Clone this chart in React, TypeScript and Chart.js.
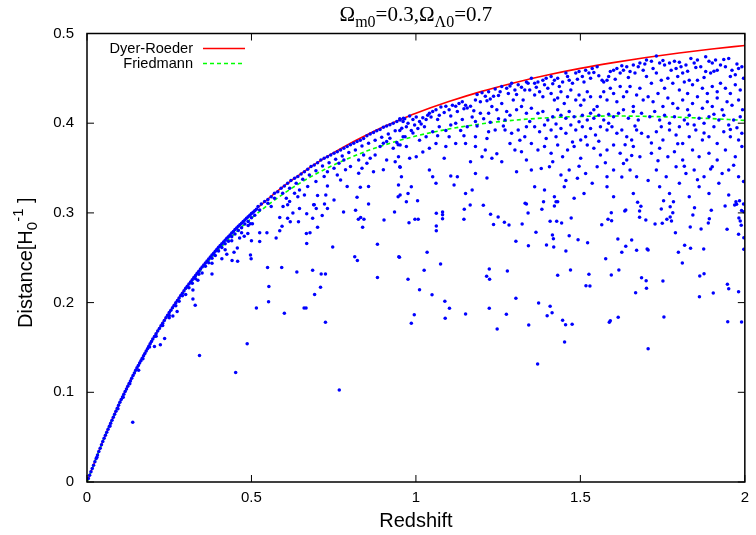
import React, { useEffect, useRef } from 'react';
import { Chart, registerables } from 'chart.js';

Chart.register(...registerables);

// ---- axis ticks ----
const xTicks = [0, 0.5, 1, 1.5, 2];
const yTicks = [0, 0.1, 0.2, 0.3, 0.4, 0.5];

// ---- model curves ----
const curveZ = [0, 0.05, 0.1, 0.15, 0.2, 0.25, 0.3, 0.35, 0.4, 0.45, 0.5, 0.55, 0.6, 0.65, 0.7, 0.75, 0.8, 0.85, 0.9, 0.95, 1.0, 1.1, 1.2, 1.3, 1.4, 1.5, 1.6, 1.7, 1.8, 1.9, 2.0];
const dyerRoeder = [0, 0.0471, 0.0889, 0.1261, 0.1594, 0.189, 0.216, 0.2399, 0.2618, 0.2815, 0.2993, 0.3155, 0.3303, 0.3436, 0.356, 0.3672, 0.3775, 0.3869, 0.3957, 0.4037, 0.4111, 0.4241, 0.4355, 0.4452, 0.4537, 0.4611, 0.4675, 0.4732, 0.4782, 0.4827, 0.4867];
const friedmann = [0, 0.047, 0.0888, 0.1259, 0.1589, 0.1883, 0.2145, 0.2379, 0.2588, 0.2774, 0.294, 0.3088, 0.322, 0.3338, 0.3442, 0.3534, 0.3616, 0.3689, 0.3752, 0.3808, 0.3857, 0.3935, 0.3993, 0.4034, 0.406, 0.4075, 0.408, 0.4076, 0.4066, 0.4051, 0.4031];

// ---- scattered sources (redshift, distance) ----
const bandPoints: number[][] = [
[0.004,0.0038],[0.008,0.0075],[0.012,0.0113],[0.016,0.015],[0.02,0.0188],[0.024,0.0226],[0.028,0.0263],[0.032,0.0301],[0.036,0.0339],[0.04,0.0376],[0.044,0.0414],[0.048,0.0452],
[0.052,0.0488],[0.056,0.0521],[0.06,0.0554],[0.064,0.0588],[0.068,0.0621],[0.072,0.0654],[0.076,0.0688],[0.08,0.0721],[0.084,0.0755],[0.088,0.0788],[0.092,0.0821],[0.096,0.0855],[0.1,0.0888],
[0.104,0.0919],[0.108,0.0948],[0.112,0.0978],[0.116,0.1008],[0.12,0.1037],[0.124,0.1067],[0.128,0.1097],[0.132,0.1126],[0.136,0.1156],[0.14,0.1186],[0.144,0.1216],[0.148,0.1245],
[0.152,0.1273],[0.156,0.13],[0.16,0.1327],[0.164,0.1353],[0.168,0.138],[0.172,0.1407],[0.176,0.1433],[0.18,0.146],[0.184,0.1486],[0.188,0.1513],[0.192,0.154],[0.196,0.1566],[0.2,0.1593],
[0.205,0.1623],[0.21,0.1652],[0.215,0.1682],[0.22,0.1711],[0.225,0.1741],[0.23,0.1771],[0.235,0.18],[0.24,0.183],[0.245,0.1859],[0.25,0.1889],
[0.255,0.1916],[0.26,0.1943],[0.265,0.197],[0.27,0.1997],[0.275,0.2024],[0.28,0.2051],[0.285,0.2078],[0.29,0.2105],[0.295,0.2132],[0.3,0.2159],
[0.305,0.2183],[0.31,0.2207],[0.315,0.2231],[0.32,0.2255],[0.325,0.2279],[0.33,0.2302],[0.335,0.2326],[0.34,0.235],[0.345,0.2374],[0.35,0.2398],
[0.355,0.242],[0.36,0.2442],[0.365,0.2464],[0.37,0.2486],[0.375,0.2508],[0.38,0.253],[0.385,0.2551],[0.39,0.2573],[0.395,0.2595],[0.4,0.2617],
[0.405,0.2637],[0.41,0.2656],[0.415,0.2676],[0.42,0.2696],[0.425,0.2716],[0.43,0.2735],[0.435,0.2755],[0.44,0.2775],[0.445,0.2794],[0.45,0.2814],
[0.455,0.2832],[0.46,0.285],[0.465,0.2867],[0.47,0.2885],[0.475,0.2903],[0.48,0.2921],[0.485,0.2939],[0.49,0.2956],[0.495,0.2974],[0.5,0.2992],
[0.505,0.3008],[0.51,0.3024],[0.515,0.3041],
[0.03,0.0275],[0.07,0.0625],[0.11,0.0945],[0.13,0.1095],[0.17,0.1375],[0.19,0.1505],[0.21,0.1625],[0.23,0.1745],[0.25,0.1855],[0.27,0.1965],[0.28,0.2015],[0.29,0.2075],
[0.31,0.2165],[0.32,0.2215],[0.33,0.2265],[0.34,0.2315],[0.36,0.2405],[0.37,0.2445],[0.38,0.2495],[0.39,0.2525],[0.4,0.2575],[0.41,0.2615],[0.42,0.2655],[0.43,0.2685],
[0.44,0.2735],[0.45,0.2765],[0.46,0.2805],[0.47,0.2835],[0.48,0.2875],[0.49,0.2905],[0.5,0.2945],[0.51,0.2975],[0.25,0.183],[0.35,0.233],[0.44,0.269],[0.47,0.278],
[0.49,0.286],[0.3,0.209],[0.38,0.244],[0.42,0.259]
];

const lowerLeftPoints: number[][] = [
[0.139,0.0666],[0.452,0.122],[0.487,0.154],[0.342,0.141],[0.767,0.1026],[0.725,0.178],[0.6,0.188],[0.515,0.194],[0.552,0.201],[0.553,0.218],[0.549,0.239],[0.592,0.239],
[0.638,0.234],[0.66,0.194],[0.666,0.194],[0.686,0.236],[0.712,0.232],[0.725,0.232],[0.692,0.209],[0.71,0.217],[0.747,0.262],[0.814,0.251],[0.822,0.247],[0.883,0.228],
[0.883,0.265],[0.948,0.251],[0.8165,0.303],[0.825,0.293],[0.832,0.295],[0.842,0.293],[0.838,0.284],[0.856,0.31],[0.78,0.301],[0.935,0.301],[0.903,0.292],[0.722,0.31],
[0.689,0.309],[0.697,0.305],[0.715,0.297],[0.701,0.284],[0.678,0.278],[0.667,0.277],[0.668,0.266],[0.686,0.294],[0.668,0.299],[0.646,0.305],[0.643,0.29],[0.626,0.3],
[0.618,0.29],[0.61,0.294],[0.593,0.285],[0.586,0.28],[0.586,0.295],[0.61,0.309],[0.575,0.272],[0.547,0.278],[0.525,0.278],[0.525,0.268],[0.5,0.269],[0.497,0.288],
[0.499,0.249],[0.497,0.253],[0.478,0.274],[0.464,0.272],[0.458,0.246],[0.457,0.261],[0.447,0.256],[0.441,0.247],[0.425,0.254],[0.41,0.249],[0.38,0.232],[0.337,0.225],
[0.329,0.197],[0.322,0.204],[0.322,0.214],[0.236,0.16],[0.223,0.153],[0.205,0.151],[0.261,0.185],[0.274,0.19],[0.157,0.1245],[0.094,0.0817],[0.489,0.277],[0.503,0.288]
];

const middlePoints: number[][] = [
[0.52,0.307],[0.53,0.31],[0.54,0.3126],[0.55,0.315],[0.56,0.318],[0.57,0.322],[0.58,0.3237],[0.59,0.3274],[0.6,0.33],[0.61,0.333],[0.62,0.336],[0.631,0.3386],
[0.641,0.3405],[0.651,0.3434],[0.661,0.346],[0.671,0.3486],[0.681,0.3516],[0.691,0.3534],[0.701,0.356],[0.711,0.359],[0.721,0.361],[0.731,0.3627],[0.741,0.3646],[0.751,0.3664],
[0.761,0.3683],[0.771,0.37],[0.781,0.372],[0.791,0.374],[0.801,0.376],[0.811,0.3776],[0.821,0.3795],[0.831,0.381],[0.841,0.383],[0.851,0.386],[0.861,0.388],[0.871,0.3895],
[0.881,0.3917],[0.891,0.393],[0.901,0.3955],[0.911,0.397],[0.921,0.3984],[0.931,0.4],[0.942,0.4018],[0.952,0.4036],[0.962,0.4055],
[0.525,0.3033],[0.55,0.3107],[0.57,0.3163],[0.595,0.322],[0.616,0.3274],[0.636,0.333],[0.656,0.3375],[0.676,0.3423],[0.696,0.347],[0.716,0.3523],[0.736,0.356],[0.756,0.3598],
[0.776,0.3635],[0.796,0.3672],[0.816,0.37],[0.836,0.3746],[0.856,0.3776],[0.876,0.381],[0.896,0.3843],[0.916,0.388],[0.937,0.3917],[0.957,0.3943],
[0.56,0.307],[0.606,0.3163],[0.631,0.322],[0.646,0.3256],[0.671,0.3293],[0.696,0.335],[0.721,0.3405],[0.731,0.346],[0.751,0.3497],[0.761,0.3423],[0.786,0.348],[0.801,0.3516],
[0.826,0.359],[0.841,0.3646],[0.851,0.3553],[0.861,0.3609],[0.876,0.3646],[0.891,0.374],[0.901,0.3776],[0.911,0.3795],[0.921,0.3832],[0.931,0.372],[0.942,0.3784],[0.952,0.3757],
[0.967,0.385],[0.826,0.3442],[0.836,0.3497],[0.856,0.3293],[0.871,0.346],[0.901,0.348],[0.911,0.359],[0.937,0.357],[0.947,0.3627],[0.952,0.3508],[0.947,0.331],[0.952,0.32],
[0.831,0.3286],[0.821,0.3174],[0.771,0.3367],[0.791,0.3293],[0.731,0.33],[0.726,0.32],[0.701,0.3193],[0.691,0.309],[0.661,0.32],[0.641,0.318],[0.616,0.3126],[0.596,0.307],
[0.731,0.305],[0.751,0.3144],[0.781,0.359],[0.766,0.3553]
];

const upperPoints: number[][] = [
[0.951,0.405],[0.966,0.405],[0.981,0.408],[0.961,0.402],[0.976,0.4],[0.991,0.404],[1.001,0.407],[0.996,0.398],[1.011,0.402],[1.021,0.406],[1.031,0.404],[1.041,0.411],
[1.051,0.413],[1.046,0.407],[1.061,0.415],[1.071,0.409],[1.076,0.418],[1.091,0.419],[1.101,0.415],[1.111,0.42],[1.121,0.419],[1.131,0.422],[1.141,0.424],[1.151,0.42],
[1.156,0.417],[1.166,0.419],[1.181,0.426],[1.186,0.432],[1.201,0.434],[1.211,0.43],[1.216,0.425],[1.221,0.435],[1.236,0.43],[1.241,0.438],[1.256,0.435],[1.261,0.441],
[1.276,0.439],[1.286,0.4415],[1.291,0.4445],[1.301,0.437],[1.311,0.443],[1.321,0.44],[1.336,0.446],[1.341,0.4445],
[0.951,0.392],[0.971,0.396],[0.986,0.392],[1.006,0.394],[1.026,0.396],[0.961,0.385],[0.991,0.389],[1.011,0.381],[0.946,0.376],[0.971,0.374],[1.031,0.385],[1.051,0.3905],
[1.071,0.396],[1.091,0.392],[1.101,0.385],[1.121,0.4],[1.141,0.404],[1.136,0.392],[1.151,0.3775],[1.171,0.407],[1.181,0.402],[1.196,0.411],[1.206,0.405],[1.221,0.411],
[1.231,0.4185],[1.246,0.415],[1.251,0.405],[1.261,0.422],[1.276,0.413],[1.286,0.409],[1.296,0.426],[1.306,0.415],[1.321,0.4185],[1.326,0.426],[1.336,0.411],[1.271,0.4036],
[1.216,0.383],[1.221,0.3905],[1.181,0.385],[1.156,0.396],[1.121,0.3775],[1.091,0.374],[1.061,0.3775],[1.041,0.372],[1.021,0.368],[1.001,0.3626],[0.981,0.3608],[0.951,0.3515],
[1.041,0.3478],[1.051,0.3403],[1.061,0.333],[0.986,0.3292],[0.976,0.3217],[0.956,0.3403],[0.946,0.318],[1.126,0.3403],[1.181,0.344],[1.151,0.3217],[1.171,0.3254],[1.116,0.331],
[1.201,0.3626],[1.231,0.3608],[1.261,0.357],[1.286,0.3775],[1.301,0.37],[1.321,0.3682],[1.241,0.3924],[1.271,0.3924],[1.291,0.3887],[1.311,0.3924],[1.331,0.385],[1.336,0.396],
[1.211,0.37],[1.181,0.374],
[1.351,0.45],[1.361,0.4445],[1.371,0.446],[1.386,0.448],[1.396,0.45],[1.411,0.452],[1.421,0.448],[1.431,0.45],[1.446,0.446],[1.456,0.456],[1.466,0.448],[1.476,0.4445],
[1.486,0.456],[1.496,0.4575],[1.506,0.452],[1.516,0.459],[1.526,0.456],[1.536,0.461],[1.541,0.4565],[1.551,0.463],[1.566,0.448],[1.571,0.446],[1.581,0.448],[1.591,0.4575],
[1.601,0.459],[1.611,0.461],[1.621,0.456],[1.631,0.459],[1.641,0.463],[1.651,0.4575],[1.661,0.465],[1.676,0.463],[1.681,0.467],[1.691,0.459],
[1.346,0.437],[1.361,0.4315],[1.376,0.435],[1.386,0.4296],[1.401,0.439],[1.411,0.433],[1.421,0.426],[1.431,0.428],[1.441,0.435],[1.451,0.422],[1.461,0.4296],[1.471,0.437],
[1.486,0.426],[1.496,0.4315],[1.501,0.42],[1.511,0.426],[1.521,0.435],[1.531,0.4296],[1.541,0.415],[1.551,0.4185],[1.561,0.4296],[1.571,0.435],[1.581,0.426],[1.591,0.439],
[1.601,0.433],[1.611,0.424],[1.621,0.441],[1.631,0.4296],[1.641,0.435],[1.651,0.441],[1.661,0.4185],[1.671,0.4315],[1.681,0.439],[1.691,0.426],
[1.351,0.4166],[1.371,0.411],[1.386,0.413],[1.401,0.4036],[1.416,0.4073],[1.431,0.415],[1.441,0.409],[1.456,0.4054],[1.466,0.413],[1.481,0.4073],[1.496,0.4017],[1.506,0.409],
[1.521,0.4036],[1.531,0.411],[1.541,0.4054],[1.556,0.409],[1.571,0.4036],[1.586,0.4],[1.601,0.4073],[1.616,0.411],[1.631,0.415],[1.646,0.4054],[1.661,0.413],[1.676,0.4036],
[1.686,0.411],
[1.361,0.396],[1.376,0.3905],[1.391,0.398],[1.411,0.3924],[1.426,0.385],[1.441,0.394],[1.456,0.3887],[1.471,0.398],[1.486,0.3924],[1.501,0.3812],[1.516,0.385],[1.531,0.394],
[1.546,0.3868],[1.561,0.396],[1.581,0.3924],[1.596,0.396],[1.611,0.3887],[1.626,0.3924],[1.641,0.385],[1.656,0.3812],[1.671,0.3924],[1.686,0.3887],
[1.351,0.3775],[1.371,0.37],[1.391,0.374],[1.411,0.3664],[1.431,0.3757],[1.446,0.3626],[1.461,0.37],[1.481,0.374],[1.501,0.3608],[1.521,0.3757],[1.541,0.372],[1.561,0.3645],
[1.581,0.37],[1.601,0.3757],[1.621,0.3664],[1.641,0.359],[1.661,0.374],[1.681,0.3626],
[1.351,0.3478],[1.381,0.3496],[1.406,0.3515],[1.441,0.3422],[1.466,0.3478],[1.491,0.3385],[1.516,0.344],[1.551,0.3515],[1.581,0.3403],[1.601,0.3478],[1.631,0.3552],[1.651,0.3478],
[1.671,0.3403],[1.361,0.3292],[1.391,0.3254],[1.421,0.318],[1.451,0.3292],[1.481,0.3162],[1.511,0.3217],[1.581,0.3292],[1.601,0.318],[1.661,0.3217],
[1.701,0.4705],[1.716,0.469],[1.731,0.475],[1.741,0.467],[1.756,0.465],[1.771,0.467],[1.786,0.469],[1.791,0.461],[1.806,0.463],[1.821,0.465],[1.836,0.472],[1.846,0.467],
[1.856,0.4705],[1.866,0.463],[1.881,0.474],[1.891,0.469],[1.901,0.467],[1.911,0.4705],[1.916,0.459],[1.926,0.465],[1.941,0.463],[1.951,0.472],[1.961,0.459],[1.971,0.454],
[1.981,0.461],[1.991,0.463],[1.881,0.4575],[1.896,0.456],[1.811,0.456],[1.831,0.448],
[1.701,0.452],[1.716,0.4445],[1.731,0.456],[1.746,0.448],[1.756,0.439],[1.766,0.45],[1.781,0.4445],[1.796,0.452],[1.801,0.437],[1.816,0.446],[1.826,0.433],[1.841,0.443],
[1.856,0.448],[1.871,0.439],[1.886,0.433],[1.901,0.441],[1.916,0.435],[1.926,0.4445],[1.941,0.439],[1.956,0.433],[1.971,0.443],[1.986,0.437],
[1.706,0.4296],[1.721,0.424],[1.736,0.433],[1.751,0.4185],[1.766,0.428],[1.781,0.422],[1.796,0.4166],[1.811,0.426],[1.826,0.415],[1.841,0.422],[1.856,0.4296],[1.871,0.4166],
[1.886,0.424],[1.901,0.4185],[1.916,0.428],[1.931,0.415],[1.946,0.424],[1.961,0.42],[1.981,0.426],[1.993,0.415],
[1.711,0.4073],[1.726,0.413],[1.741,0.4036],[1.756,0.409],[1.771,0.4],[1.786,0.4073],[1.801,0.396],[1.816,0.4036],[1.831,0.409],[1.846,0.398],[1.861,0.4054],[1.876,0.4],
[1.891,0.4073],[1.906,0.396],[1.921,0.4036],[1.936,0.409],[1.951,0.398],[1.966,0.4036],[1.986,0.4073],
[1.706,0.385],[1.731,0.3905],[1.751,0.3812],[1.771,0.3924],[1.791,0.3868],[1.811,0.3775],[1.831,0.385],[1.851,0.3924],[1.871,0.3812],[1.891,0.385],[1.916,0.3775],[1.936,0.3905],
[1.956,0.385],[1.981,0.3812],[1.991,0.3887],
[1.716,0.3664],[1.741,0.372],[1.766,0.3626],[1.786,0.3682],[1.811,0.359],[1.841,0.37],[1.861,0.3626],[1.891,0.3664],[1.916,0.359],[1.941,0.37],[1.971,0.3626],[1.991,0.374],
[1.731,0.3478],[1.761,0.3403],[1.791,0.3515],[1.821,0.344],[1.846,0.3478],[1.876,0.3403],[1.901,0.3515],[1.931,0.344],[1.951,0.3478],[1.981,0.3403],
[1.741,0.3292],[1.771,0.3217],[1.801,0.333],[1.831,0.318],[1.861,0.3292],[1.891,0.3217],[1.921,0.333],[1.951,0.32]
];

const extraUpperPoints: number[][] = [
[1.016,0.399],[1.036,0.409],[1.066,0.404],[1.086,0.412],[1.106,0.408],[1.126,0.413],[1.146,0.416],[1.176,0.414],[1.196,0.424],[1.226,0.427],[1.251,0.431],[1.281,0.433],
[1.306,0.432],[1.331,0.437],[1.366,0.44],[1.391,0.443],[1.416,0.444],[1.436,0.441],[1.461,0.452],[1.491,0.449],[1.511,0.446],[1.531,0.45],[1.556,0.453],[1.586,0.452],
[1.606,0.449],[1.626,0.464],[1.646,0.451],[1.666,0.456],[1.696,0.466],[1.721,0.461],[1.751,0.47],[1.776,0.459],[1.801,0.468],[1.826,0.458],[1.851,0.462],[1.876,0.451],
[1.906,0.458],[1.936,0.471],[1.956,0.452],[1.976,0.466],[1.996,0.45],
[1.106,0.398],[1.186,0.397],[1.266,0.397],[1.346,0.402],[1.426,0.399],[1.506,0.396],[1.586,0.41],[1.666,0.397],[1.746,0.396],[1.826,0.399],[1.906,0.41],[1.976,0.395],
[1.066,0.386],[1.146,0.386],[1.226,0.401],[1.316,0.381],[1.396,0.383],[1.476,0.379],[1.556,0.38],[1.636,0.376],[1.716,0.378],[1.796,0.377],[1.876,0.389],[1.956,0.393],
[1.086,0.361],[1.166,0.357],[1.246,0.366],[1.336,0.359],[1.416,0.357],[1.496,0.352],[1.576,0.356],[1.656,0.364],[1.736,0.358],[1.816,0.352],[1.896,0.349],[1.966,0.353],
[1.106,0.341],[1.216,0.339],[1.306,0.346],[1.456,0.336],[1.536,0.333],[1.626,0.34],[1.706,0.336],[1.856,0.337],[1.996,0.335]
];

const lowerRightPoints: number[][] = [
[0.971,0.3125],[1.005,0.3136],[0.979,0.289],[0.997,0.293],[1.007,0.293],[0.95,0.2505],[1.034,0.256],[0.976,0.226],[1.025,0.236],[1.011,0.2144],[1.049,0.2088],[0.995,0.1865],
[0.986,0.1769],[1.088,0.2014],[1.102,0.1936],[1.089,0.1825],[1.075,0.243],[1.062,0.2854],[1.062,0.2802],[1.081,0.301],[1.081,0.298],[1.081,0.2936],[1.062,0.2995],[1.147,0.304],
[1.146,0.293],[1.165,0.3088],[1.205,0.3084],[1.227,0.2984],[1.25,0.2954],[1.236,0.2872],[1.269,0.2895],[1.283,0.2865],[1.223,0.2375],[1.215,0.2293],[1.224,0.226],[1.278,0.2352],
[1.223,0.1936],[1.151,0.1873],[1.247,0.1706],[1.275,0.187],[1.304,0.2048],[1.304,0.2683],[1.323,0.2876],[1.342,0.2634],[1.341,0.3],[1.332,0.3107],[1.336,0.3099],[1.365,0.2783],
[1.383,0.304],[1.388,0.3125],[1.397,0.2642],[1.408,0.2906],[1.421,0.3077],[1.426,0.3125],[1.431,0.3125],[1.428,0.2906],[1.443,0.2887],[1.415,0.2754],[1.418,0.2713],[1.419,0.262],
[1.456,0.2575],[1.466,0.2746],[1.472,0.2943],[1.493,0.2701],[1.522,0.2668],[1.373,0.1996],[1.408,0.1959],[1.414,0.1888],[1.399,0.1854],[1.343,0.175],[1.37,0.1315],[1.431,0.2304],
[1.47,0.2363],[1.446,0.1802],[1.455,0.1754],[1.475,0.1758],[1.452,0.1561],[1.517,0.2188],[1.529,0.2185],[1.526,0.2315],[1.565,0.2869],[1.584,0.293],[1.594,0.3002],[1.595,0.2913],
[1.577,0.2489],[1.594,0.2308],[1.617,0.2363],[1.614,0.2709],[1.626,0.2561],[1.638,0.2628],[1.635,0.3021],[1.638,0.3032],[1.656,0.2698],[1.671,0.2583],[1.674,0.3118],[1.68,0.3021],
[1.684,0.3073],[1.68,0.2951],[1.699,0.2921],[1.686,0.2278],[1.7,0.2244],[1.701,0.2159],[1.703,0.2598],[1.706,0.2586],[1.668,0.2111],[1.706,0.1486],[1.591,0.1798],[1.588,0.178],
[1.615,0.1836],[1.727,0.2876],[1.746,0.3043],[1.749,0.2884],[1.753,0.3136],[1.751,0.2241],[1.754,0.184],[1.763,0.293],[1.773,0.3069],[1.773,0.2954],[1.777,0.291],[1.781,0.3002],
[1.783,0.3125],[1.789,0.278],[1.798,0.256],[1.81,0.2442],[1.817,0.2639],[1.835,0.2605],[1.834,0.2843],[1.842,0.2977],[1.847,0.3058],[1.867,0.2821],[1.875,0.2598],[1.863,0.2297],
[1.876,0.2322],[1.862,0.2066],[1.904,0.2107],[1.889,0.2887],[1.892,0.2936],[1.898,0.3029],[1.94,0.3077],[1.946,0.2817],[1.947,0.2204],[1.951,0.2155],[1.948,0.1787],[1.981,0.2122],
[1.99,0.1784],[1.981,0.2761],[1.989,0.2862],[1.982,0.2943],[1.986,0.291],[1.997,0.2594],[1.997,0.2724],[1.969,0.3088],[1.975,0.3096],[1.973,0.3125],[1.996,0.3099],[1.997,0.3014],
[1.99,0.3027],[1.984,0.3136]
];

const allPoints = [...bandPoints, ...lowerLeftPoints, ...middlePoints, ...upperPoints, ...extraUpperPoints, ...lowerRightPoints];

const SANS = "'Liberation Sans', Arial, Helvetica, sans-serif";
const SERIF = "'Liberation Serif', 'Times New Roman', Times, serif";

const decorations = {
  id: 'decorations',
  afterDraw(chart: any) {
    const { ctx, chartArea } = chart;
    const { left, right, top, bottom } = chartArea;
    const xs = chart.scales.x;
    const ys = chart.scales.y;
    ctx.save();
    // inward ticks (mirrored)
    ctx.strokeStyle = '#000';
    ctx.lineWidth = 1;
    const tl = 7;
    ctx.beginPath();
    xTicks.forEach((v) => {
      const px = xs.getPixelForValue(v);
      ctx.moveTo(px, bottom); ctx.lineTo(px, bottom - tl);
      ctx.moveTo(px, top); ctx.lineTo(px, top + tl);
    });
    yTicks.forEach((v) => {
      const py = ys.getPixelForValue(v);
      ctx.moveTo(left, py); ctx.lineTo(left + tl, py);
      ctx.moveTo(right, py); ctx.lineTo(right - tl, py);
    });
    ctx.stroke();
    // frame
    ctx.lineWidth = 1.5;
    ctx.strokeRect(left, top, right - left, bottom - top);

    // legend
    ctx.fillStyle = '#000';
    ctx.font = `14.6px ${SANS}`;
    ctx.textAlign = 'right';
    ctx.textBaseline = 'middle';
    ctx.fillText('Dyer-Roeder', 193, 48.5);
    ctx.fillText('Friedmann', 193, 63.5);
    ctx.lineWidth = 1.5;
    ctx.strokeStyle = '#ff0000';
    ctx.beginPath(); ctx.moveTo(203, 48.5); ctx.lineTo(245, 48.5); ctx.stroke();
    ctx.strokeStyle = '#00ff00';
    ctx.setLineDash([4, 3]);
    ctx.beginPath(); ctx.moveTo(203, 63.5); ctx.lineTo(245, 63.5); ctx.stroke();
    ctx.setLineDash([]);

    // title with subscripts
    const parts = [
      { t: '\u03A9', s: 21, d: 0 },
      { t: 'm0', s: 16, d: 6 },
      { t: '=0.3,', s: 21, d: 0 },
      { t: '\u03A9', s: 21, d: 0 },
      { t: '\u039B0', s: 16, d: 6 },
      { t: '=0.7', s: 21, d: 0 },
    ];
    ctx.textAlign = 'left';
    ctx.textBaseline = 'alphabetic';
    let total = 0;
    parts.forEach((p) => { ctx.font = `${p.s}px ${SERIF}`; total += ctx.measureText(p.t).width; });
    let x0 = (left + right) / 2 - total / 2;
    parts.forEach((p) => {
      ctx.font = `${p.s}px ${SERIF}`;
      ctx.fillText(p.t, x0, 21 + p.d);
      x0 += ctx.measureText(p.t).width;
    });

    // x axis title
    ctx.font = `20px ${SANS}`;
    ctx.textAlign = 'center';
    ctx.textBaseline = 'middle';
    ctx.fillText('Redshift', (left + right) / 2, 521);

    // y axis title (rotated)
    ctx.save();
    ctx.translate(32, 328);
    ctx.rotate(-Math.PI / 2);
    ctx.textAlign = 'left';
    ctx.textBaseline = 'alphabetic';
    const yparts = [
      { t: 'Distance[H', s: 20, d: 0 },
      { t: '0', s: 15, d: 5 },
      { t: '-1', s: 15, d: -9 },
      { t: ' ]', s: 20, d: 0 },
    ];
    let yx = 0;
    yparts.forEach((p) => {
      ctx.font = `${p.s}px ${SANS}`;
      ctx.fillText(p.t, yx, p.d);
      yx += ctx.measureText(p.t).width;
    });
    ctx.restore();
    ctx.restore();
  },
};

export default function App() {
  const ref = useRef<HTMLCanvasElement | null>(null);
  useEffect(() => {
    document.body.style.margin = '0';
    const canvas = ref.current;
    if (!canvas) return;
    const chart = new Chart(canvas, {
      type: 'scatter',
      data: {
        datasets: [
          {
            type: 'line',
            label: 'Dyer-Roeder',
            data: curveZ.map((z, i) => ({ x: z, y: dyerRoeder[i] })),
            borderColor: '#ff0000',
            borderWidth: 1.6,
            pointRadius: 0,
            fill: false,
            cubicInterpolationMode: 'monotone',
            order: 2,
          } as any,
          {
            type: 'line',
            label: 'Friedmann',
            data: curveZ.map((z, i) => ({ x: z, y: friedmann[i] })),
            borderColor: '#00ff00',
            borderWidth: 1.6,
            borderDash: [4, 3],
            pointRadius: 0,
            fill: false,
            cubicInterpolationMode: 'monotone',
            order: 1,
          } as any,
          {
            label: 'sources',
            data: allPoints.map((p) => ({ x: p[0], y: p[1] })),
            backgroundColor: '#0000ff',
            borderWidth: 0,
            pointRadius: 1.75,
            order: 0,
          },
        ],
      },
      options: {
        responsive: false,
        animation: false,
        events: [],
        layout: { padding: { top: 33.5, right: 3.8, left: 0, bottom: 0 } },
        plugins: { legend: { display: false }, tooltip: { enabled: false }, title: { display: false } },
        scales: {
          x: {
            type: 'linear',
            min: 0,
            max: 2,
            afterBuildTicks: (s: any) => { s.ticks = xTicks.map((v) => ({ value: v })); },
            afterFit: (s: any) => { s.height = 53; },
            grid: { display: false, drawTicks: false },
            border: { display: false },
            ticks: { color: '#000', font: { family: SANS, size: 15 }, padding: 7, maxRotation: 0, autoSkip: false, callback: (v: any) => String(v) },
          },
          y: {
            type: 'linear',
            min: 0,
            max: 0.5,
            afterBuildTicks: (s: any) => { s.ticks = yTicks.map((v) => ({ value: v })); },
            afterFit: (s: any) => { s.width = 87; },
            grid: { display: false, drawTicks: false },
            border: { display: false },
            ticks: { color: '#000', font: { family: SANS, size: 15 }, padding: 13, autoSkip: false, callback: (v: any) => String(Math.round(v * 10) / 10) },
          },
        },
      },
      plugins: [decorations],
    });
    return () => chart.destroy();
  }, []);
  return (
    <div style={{ width: 756, height: 535 }}>
      <canvas ref={ref} width={756} height={535} style={{ display: 'block' }} />
    </div>
  );
}
